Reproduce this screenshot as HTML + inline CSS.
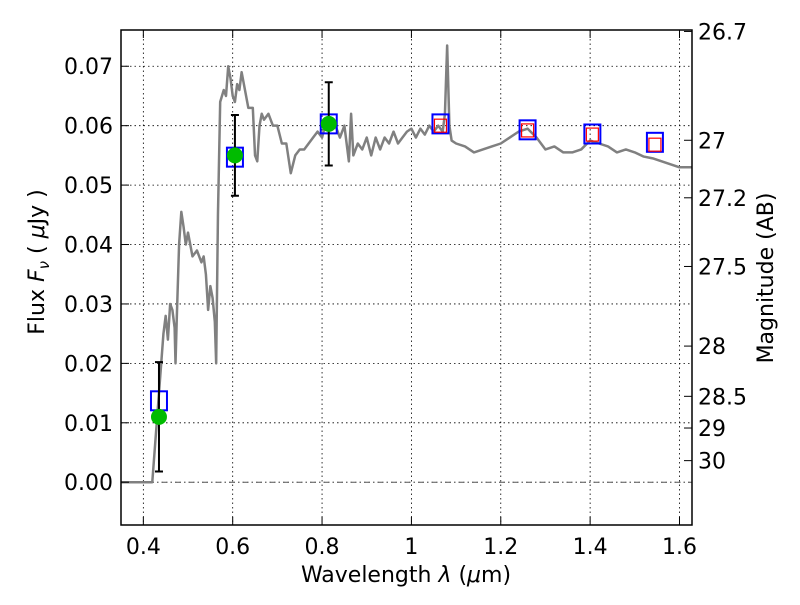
<!DOCTYPE html>
<html><head><meta charset="utf-8"><style>
body{margin:0;background:#fff;}
svg text{font-family:"DejaVu Sans","Liberation Sans",sans-serif;fill:#000;}
</style></head><body>
<svg id="chart" width="800" height="600" xmlns="http://www.w3.org/2000/svg">
<rect width="800" height="600" fill="#fff"/>
<g id="grid"></g>
<g id="marks"></g>
<g id="axes"></g>
<text x="406" y="582" font-size="22" text-anchor="middle">Wavelength  <tspan font-style="italic">λ</tspan> (<tspan font-style="italic">μ</tspan>m)</text>
<text transform="translate(44,262) rotate(-90)" font-size="22" text-anchor="middle">Flux  <tspan font-style="italic">F</tspan><tspan font-style="italic" font-size="15" dy="5">ν</tspan><tspan dy="-5">  (  </tspan><tspan font-style="italic">μ</tspan>Jy )</text>
<text transform="translate(773,278) rotate(-90)" font-size="22" text-anchor="middle">Magnitude (AB)</text>
</svg>
<script>
const specWave=[0.35,0.42,0.43,0.44,0.445,0.45,0.455,0.46,0.465,0.47,0.472,0.475,0.48,0.485,0.49,0.495,0.50,0.51,0.52,0.53,0.535,0.54,0.545,0.55,0.555,0.56,0.563,0.567,0.572,0.58,0.585,0.59,0.595,0.60,0.605,0.61,0.615,0.62,0.625,0.63,0.635,0.645,0.65,0.655,0.66,0.665,0.67,0.68,0.69,0.70,0.71,0.72,0.73,0.74,0.75,0.76,0.77,0.78,0.79,0.80,0.81,0.82,0.83,0.84,0.85,0.86,0.865,0.87,0.88,0.89,0.90,0.91,0.92,0.93,0.94,0.95,0.96,0.97,0.98,0.99,1.00,1.01,1.02,1.03,1.04,1.05,1.06,1.07,1.075,1.08,1.085,1.09,1.10,1.12,1.14,1.16,1.18,1.20,1.22,1.24,1.26,1.28,1.30,1.32,1.34,1.36,1.38,1.40,1.42,1.44,1.46,1.48,1.50,1.52,1.54,1.56,1.58,1.60,1.628];
const specFlux=[0,0,0.01,0.02,0.025,0.028,0.024,0.03,0.029,0.026,0.02,0.028,0.04,0.0455,0.043,0.040,0.042,0.038,0.039,0.037,0.038,0.035,0.029,0.033,0.031,0.027,0.02,0.045,0.064,0.066,0.065,0.07,0.068,0.065,0.064,0.067,0.066,0.069,0.067,0.065,0.063,0.063,0.055,0.054,0.060,0.062,0.061,0.062,0.060,0.060,0.057,0.057,0.052,0.055,0.056,0.056,0.057,0.058,0.059,0.058,0.061,0.061,0.060,0.058,0.060,0.054,0.062,0.055,0.057,0.056,0.058,0.055,0.058,0.056,0.058,0.057,0.059,0.057,0.058,0.059,0.0595,0.058,0.0595,0.0585,0.060,0.059,0.060,0.059,0.062,0.0735,0.060,0.0575,0.057,0.0565,0.0555,0.056,0.0565,0.057,0.058,0.059,0.0595,0.058,0.056,0.0565,0.0555,0.0555,0.056,0.0575,0.057,0.0565,0.0555,0.056,0.0555,0.0548,0.0545,0.054,0.0535,0.053,0.053];
const obsWave=[0.435,0.605,0.815];
const obsFlux=[0.011,0.055,0.0603];
const obsErr=[0.0092,0.0068,0.007];
const modelWave=[0.435,0.605,0.815,1.065,1.26,1.405,1.545];
const modelFlux=[0.0137,0.0547,0.0603,0.0603,0.0593,0.0586,0.0572];
const predWave=[1.065,1.26,1.405,1.545];
const predFlux=[0.0600,0.0592,0.0585,0.0568];
const xTicks=[0.4,0.6,0.8,1.0,1.2,1.4,1.6];
const xTickLabels=["0.4","0.6","0.8","1","1.2","1.4","1.6"];
const yTicks=[0,0.01,0.02,0.03,0.04,0.05,0.06,0.07];
const yTickLabels=["0.00","0.01","0.02","0.03","0.04","0.05","0.06","0.07"];
const magTicks=[26.7,27,27.2,27.5,28,28.5,29,30];
const magTickLabels=["26.7","27","27.2","27.5","28","28.5","29","30"];

const L=121,R=692,T=30,B=525,xmin=0.35,xmax=1.628,ymin=-0.0072,ymax=0.0761;
const X=v=>L+(v-xmin)/(xmax-xmin)*(R-L);
const Y=v=>B-(v-ymin)/(ymax-ymin)*(B-T);
const NS="http://www.w3.org/2000/svg";
function mk(parent,tag,attrs){const e=document.createElementNS(NS,tag);for(const k in attrs)e.setAttribute(k,attrs[k]);document.getElementById(parent).appendChild(e);return e;}
xTicks.forEach(t=>{const e=mk('grid','line',{x1:X(t),x2:X(t),y1:T,y2:B,stroke:'#000','stroke-width':0.8,'stroke-dasharray':'1.5,3'});

});
yTicks.forEach(t=>{const e=mk('grid','line',{x1:L,x2:R,y1:Y(t),y2:Y(t),stroke:'#000','stroke-width':0.8,'stroke-dasharray':'1.5,3'});

});
const z=mk('grid','line',{x1:L,x2:R,y1:Y(0),y2:Y(0),stroke:'#555','stroke-width':1,'stroke-dasharray':'6,3,1.5,3'});


const sp=mk('marks','polyline',{points:specWave.map((w,i)=>X(w)+','+Y(specFlux[i])).join(' '),fill:'none',stroke:'#808080','stroke-width':2.5,'stroke-linejoin':'round'});


modelWave.forEach((w,i)=>{const r=mk('marks','rect',{x:X(w)-8,y:Y(modelFlux[i])-9.5,width:16,height:19,fill:'none',stroke:'#0000ff','stroke-width':2});

});
predWave.forEach((w,i)=>{const r=mk('marks','rect',{x:X(w)-6,y:Y(predFlux[i])-6.5,width:12,height:13,fill:'none',stroke:'#ff0000','stroke-width':1.2});

});
obsWave.forEach((w,i)=>{const x=X(w),y1=Y(obsFlux[i]-obsErr[i]),y2=Y(obsFlux[i]+obsErr[i]);
const l=mk('marks','path',{d:`M${x},${y1}V${y2}M${x-4},${y1}H${x+4}M${x-4},${y2}H${x+4}`,stroke:'#000','stroke-width':2,fill:'none'});


const c=mk('marks','circle',{cx:x,cy:Y(obsFlux[i]),r:8,fill:'#00bb00'});

});
const f=mk('axes','rect',{x:L,y:T,width:R-L,height:B-T,fill:'none',stroke:'#000','stroke-width':1.5});


xTicks.forEach((t,i)=>{mk('axes','path',{d:`M${X(t)},${B}v-8M${X(t)},${T}v8`,stroke:'#000','stroke-width':1});
const e=mk('axes','text',{x:X(t),y:B+29,'font-size':22,'text-anchor':'middle'});e.textContent=xTickLabels[i];

});
yTicks.forEach((t,i)=>{mk('axes','path',{d:`M${L},${Y(t)}h8`,stroke:'#000','stroke-width':1});
const e=mk('axes','text',{x:L-8,y:Y(t)+8,'font-size':22,'text-anchor':'end'});e.textContent=yTickLabels[i];

});
magTicks.forEach((m,i)=>{const y=Y(Math.pow(10,-0.4*(m-23.9)));mk('axes','path',{d:`M${R},${y}h-8`,stroke:'#000','stroke-width':1});
const e=mk('axes','text',{x:R+6,y:Math.max(y,T)+8,'font-size':22,'text-anchor':'start'});e.textContent=magTickLabels[i];

});
</script>
</body></html>
